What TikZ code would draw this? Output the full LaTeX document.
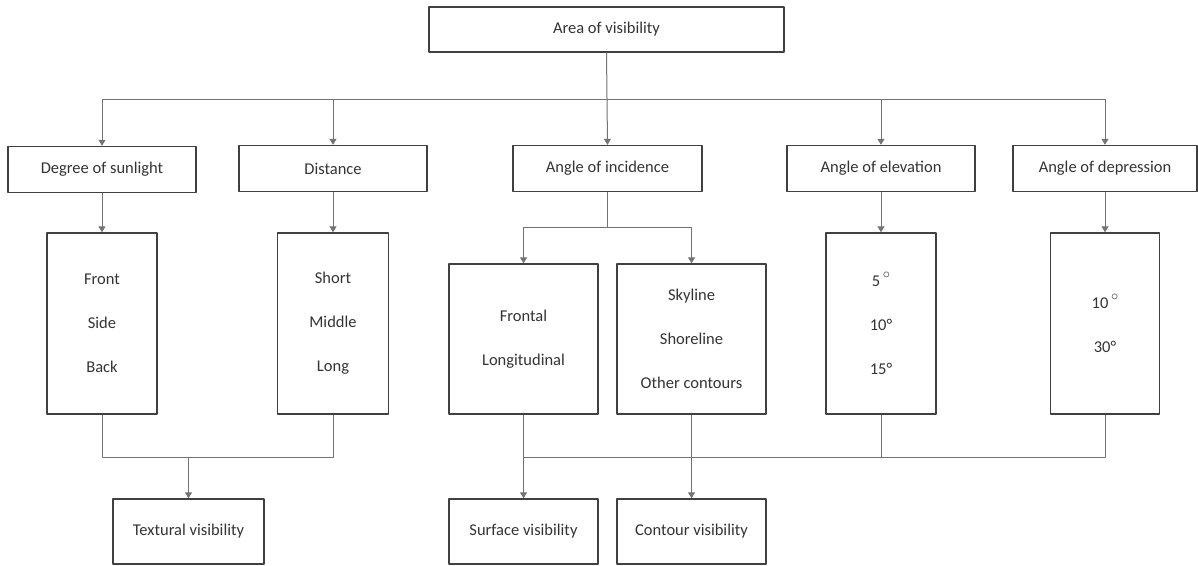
\documentclass[tikz,border=0pt]{standalone}
\usepackage{fontspec}
\setmainfont{Carlito}
\usetikzlibrary{arrows.meta}
\begin{document}
\begin{tikzpicture}[x=1pt,y=-1pt,line join=round,>={Triangle[width=7pt,length=6pt]},
    boite/.style={draw=black!75,line width=1.4pt,inner sep=0pt,align=center,text=black!80,font=\fontsize{16.5}{44}\selectfont},
    lien/.style={draw=black!55,line width=1pt}]
    \def\mydeg{\,\raisebox{1.0ex}{\Large$\circ$}}
    \useasboundingbox (0,0) rectangle (1198,565);
    \node[boite,minimum width=355,minimum height=45] (area) at (606.5,29.5) {Area of visibility};
    \node[boite,minimum width=188,minimum height=46] (sun) at (102,169.5) {Degree of sunlight};
    \node[boite,minimum width=188,minimum height=46] (dist) at (333,168.5) {Distance};
    \node[boite,minimum width=189,minimum height=46] (incid) at (607.5,168.5) {Angle of incidence};
    \node[boite,minimum width=188,minimum height=46] (elev) at (881,168.5) {Angle of elevation};
    \node[boite,minimum width=184,minimum height=46] (depr) at (1105,168.5) {Angle of depression};
    \node[boite,minimum width=110,minimum height=181] (sunlist) at (102,323.5) {Front\\Side\\Back};
    \node[boite,minimum width=111,minimum height=181] (distlist) at (333,323.5) {Short\\Middle\\Long};
    \node[boite,minimum width=149,minimum height=150] (frontal) at (523.5,339) {Frontal\\Longitudinal};
    \node[boite,minimum width=149,minimum height=150] (contours) at (691.5,339) {Skyline\\Shoreline\\Other contours};
    \node[boite,minimum width=110,minimum height=181] (elevlist) at (881,323.5) {5\mydeg\\10°\\15°};
    \node[boite,minimum width=109,minimum height=181] (deprlist) at (1105,323.5) {10\mydeg\\30°};
    \node[boite,minimum width=151,minimum height=65] (textural) at (188.5,531.5) {Textural visibility};
    \node[boite,minimum width=149,minimum height=65] (surface) at (523.5,531.5) {Surface visibility};
    \node[boite,minimum width=149,minimum height=65] (contour) at (691.5,531.5) {Contour visibility};
    \coordinate (topbar) at (0,99);
    \coordinate (incbar) at (0,227);
    \coordinate (lowbar) at (0,457);
    % first level
    \draw[lien,->] (area.south) -- (incid.north);
    \draw[lien] (sun.north |- topbar) -- (depr.north |- topbar);
    \foreach \n in {sun,dist,elev,depr}
        \draw[lien,->] (\n.north |- topbar) -- (\n.north);
    % second level
    \foreach \n in {sun,dist,elev,depr}
        \draw[lien,->] (\n.south) -- (\n list.north);
    \draw[lien] (incid.south) -- (incid.south |- incbar);
    \draw[lien,->] (incid.south |- incbar) -| (frontal.north);
    \draw[lien,->] (incid.south |- incbar) -| (contours.north);
    % third level
    \draw[lien] (sunlist.south) |- (distlist.south |- lowbar) -- (distlist.south);
    \draw[lien,->] (textural.north |- lowbar) -- (textural.north);
    \draw[lien,->] (frontal.south) -- (surface.north);
    \draw[lien,->] (contours.south) -- (contour.north);
    \draw[lien] (frontal.south |- lowbar) -| (deprlist.south);
    \draw[lien] (elevlist.south) -- (elevlist.south |- lowbar);
\end{tikzpicture}
\end{document}
